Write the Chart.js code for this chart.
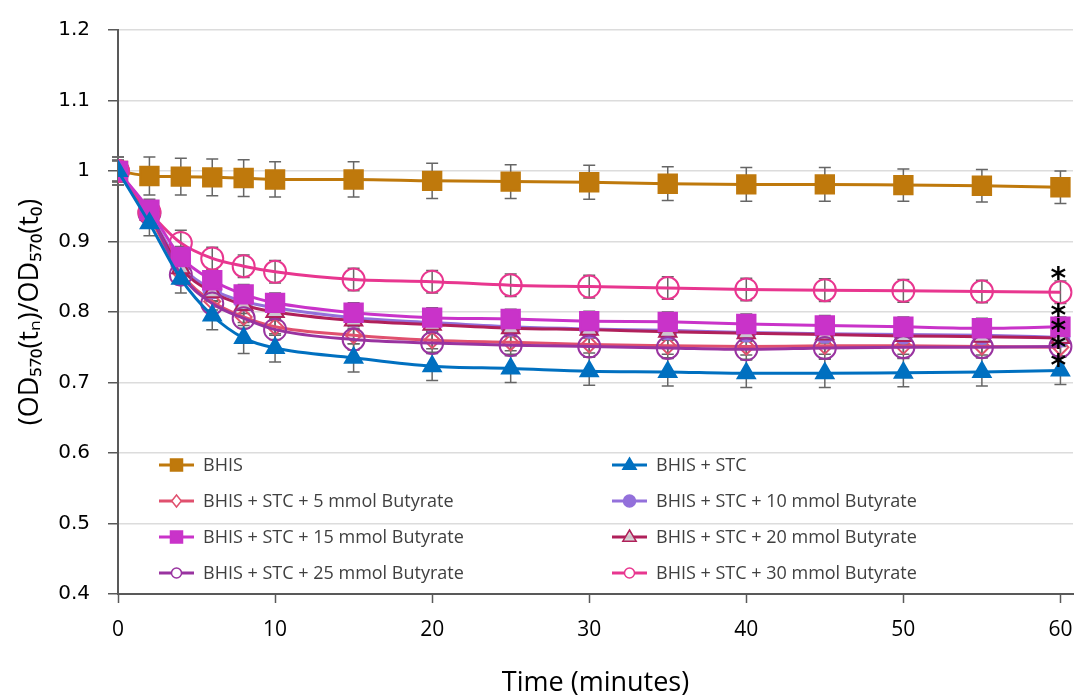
<!DOCTYPE html>
<html lang="en">
<head>
    <meta charset="UTF-8">
    <title>OD570 time course</title>
    <script src="https://cdn.jsdelivr.net/npm/chart.js"></script>
    <style>
        body { margin: 0; background: #fff; }
        #wrap { width: 1075px; height: 700px; }
    </style>
</head>
<body>
    <div id="wrap"><canvas id="odChart" width="1075" height="700"></canvas></div>

    <script>
        // time points (minutes)
        const times = [0, 2, 4, 6, 8, 10, 15, 20, 25, 30, 35, 40, 45, 50, 55, 60];

        const seriesNames = [
            'BHIS',
            'BHIS + STC',
            'BHIS + STC + 5 mmol Butyrate',
            'BHIS + STC + 10 mmol Butyrate',
            'BHIS + STC + 15 mmol Butyrate',
            'BHIS + STC + 20 mmol Butyrate',
            'BHIS + STC + 25 mmol Butyrate',
            'BHIS + STC + 30 mmol Butyrate'
        ];

        const bhis = [1.000, 0.993, 0.992, 0.991, 0.990, 0.988, 0.988, 0.986, 0.985, 0.984, 0.982, 0.981, 0.981, 0.980, 0.979, 0.977];
        const stc  = [1.000, 0.926, 0.847, 0.795, 0.763, 0.749, 0.735, 0.723, 0.720, 0.716, 0.715, 0.713, 0.713, 0.714, 0.715, 0.717];
        const but5  = [1.000, 0.935, 0.855, 0.815, 0.793, 0.779, 0.767, 0.760, 0.757, 0.754, 0.752, 0.751, 0.752, 0.752, 0.751, 0.750];
        const but10 = [1.000, 0.940, 0.866, 0.832, 0.815, 0.806, 0.792, 0.785, 0.779, 0.776, 0.774, 0.771, 0.769, 0.768, 0.767, 0.764];
        const but15 = [1.000, 0.945, 0.878, 0.845, 0.825, 0.813, 0.799, 0.792, 0.790, 0.787, 0.786, 0.783, 0.781, 0.779, 0.777, 0.779];
        const but20 = [1.000, 0.938, 0.862, 0.828, 0.810, 0.800, 0.788, 0.782, 0.777, 0.775, 0.772, 0.770, 0.768, 0.766, 0.765, 0.763];
        const but25 = [1.000, 0.940, 0.853, 0.812, 0.791, 0.775, 0.761, 0.756, 0.753, 0.751, 0.749, 0.747, 0.749, 0.750, 0.750, 0.751];
        const but30 = [1.000, 0.942, 0.898, 0.876, 0.865, 0.857, 0.846, 0.843, 0.838, 0.836, 0.834, 0.832, 0.831, 0.830, 0.829, 0.828];

        // standard deviations (error bars)
        const bhisErr = [0.020, 0.027, 0.026, 0.026, 0.026, 0.025, 0.025, 0.025, 0.024, 0.024, 0.024, 0.024, 0.024, 0.023, 0.023, 0.023];
        const stcErr  = [0.020, 0.018, 0.020, 0.020, 0.022, 0.020, 0.020, 0.020, 0.020, 0.020, 0.020, 0.020, 0.020, 0.020, 0.020, 0.020];
        const but5Err  = [0.015, 0.012, 0.012, 0.012, 0.012, 0.012, 0.012, 0.012, 0.012, 0.012, 0.012, 0.012, 0.012, 0.012, 0.012, 0.012];
        const but10Err = [0.015, 0.012, 0.012, 0.012, 0.012, 0.012, 0.012, 0.012, 0.012, 0.012, 0.012, 0.012, 0.012, 0.012, 0.012, 0.012];
        const but15Err = [0.015, 0.015, 0.015, 0.014, 0.014, 0.014, 0.014, 0.014, 0.014, 0.014, 0.014, 0.014, 0.014, 0.014, 0.014, 0.014];
        const but20Err = [0.015, 0.012, 0.012, 0.012, 0.012, 0.012, 0.012, 0.012, 0.012, 0.012, 0.012, 0.012, 0.012, 0.012, 0.012, 0.012];
        const but25Err = [0.015, 0.014, 0.014, 0.014, 0.014, 0.014, 0.015, 0.015, 0.015, 0.015, 0.015, 0.015, 0.015, 0.015, 0.015, 0.015];
        const but30Err = [0.015, 0.015, 0.018, 0.016, 0.016, 0.016, 0.016, 0.016, 0.016, 0.016, 0.016, 0.016, 0.016, 0.016, 0.016, 0.016];

        // significance marks at 60 min
        const asteriskTime = 60;
        const asteriskValues = [0.858, 0.805, 0.784, 0.760, 0.735];

        const yTicks = [0.4, 0.5, 0.6, 0.7, 0.8, 0.9, 1.0, 1.1, 1.2];
        const xTicks = [0, 10, 20, 30, 40, 50, 60];

        function pts(values) {
            return times.map((t, i) => ({ x: t, y: values[i] }));
        }

        function series(idx, values, errors, color, style, radius, fill, order) {
            return {
                label: seriesNames[idx],
                data: pts(values),
                errors: errors,
                borderColor: color,
                backgroundColor: fill,
                borderWidth: 3,
                pointStyle: style,
                pointRadius: radius,
                pointBorderColor: color,
                pointBackgroundColor: fill,
                pointBorderWidth: 2,
                cubicInterpolationMode: 'monotone',
                order: order
            };
        }

        const datasets = [
            series(0, bhis, bhisErr, '#BF790C', 'rect', 13, '#BF790C', 7),
            series(1, stc, stcErr, '#0070C0', 'triangle', 10, '#0070C0', 0),
            series(2, but5, but5Err, '#E0506E', 'rectRot', 8, 'rgba(255,255,255,0)', 6),
            series(3, but10, but10Err, '#9370DB', 'circle', 9, '#9370DB', 5),
            series(4, but15, but15Err, '#C933C9', 'rect', 13, '#C933C9', 1),
            series(5, but20, but20Err, '#B0205A', 'triangle', 10, 'rgba(210,210,210,0.9)', 4),
            series(6, but25, but25Err, '#9933A0', 'circle', 11, 'rgba(255,255,255,0)', 3),
            series(7, but30, but30Err, '#E8368F', 'circle', 11, 'rgba(255,255,255,0)', 2)
        ];

        const errorBars = {
            id: 'errorBars',
            beforeDatasetsDraw(chart) {
                const ctx = chart.ctx;
                const ys = chart.scales.y;
                ctx.save();
                ctx.strokeStyle = '#666666';
                ctx.lineWidth = 1.5;
                chart.data.datasets.forEach((ds, i) => {
                    const meta = chart.getDatasetMeta(i);
                    meta.data.forEach((el, j) => {
                        const v = ds.data[j].y;
                        const e = ds.errors[j];
                        const top = ys.getPixelForValue(v + e);
                        const bot = ys.getPixelForValue(v - e);
                        ctx.beginPath();
                        ctx.moveTo(el.x, top);
                        ctx.lineTo(el.x, bot);
                        ctx.moveTo(el.x - 6, top);
                        ctx.lineTo(el.x + 6, top);
                        ctx.moveTo(el.x - 6, bot);
                        ctx.lineTo(el.x + 6, bot);
                        ctx.stroke();
                    });
                });
                ctx.restore();
            }
        };

        function marker(ctx, style, x, y, r) {
            ctx.beginPath();
            if (style === 'rect') {
                ctx.rect(x - r, y - r, 2 * r, 2 * r);
            } else if (style === 'triangle') {
                ctx.moveTo(x, y - r);
                ctx.lineTo(x + r * 0.95, y + r * 0.6);
                ctx.lineTo(x - r * 0.95, y + r * 0.6);
                ctx.closePath();
            } else if (style === 'rectRot') {
                ctx.moveTo(x, y - r);
                ctx.lineTo(x + r * 0.8, y);
                ctx.lineTo(x, y + r);
                ctx.lineTo(x - r * 0.8, y);
                ctx.closePath();
            } else {
                ctx.arc(x, y, r, 0, Math.PI * 2);
            }
            ctx.fill();
            ctx.stroke();
        }

        // legend inside the plot area, two columns
        const innerLegend = {
            id: 'innerLegend',
            afterDraw(chart) {
                const ctx = chart.ctx;
                const cols = [159, 612];
                const rows = [465, 501, 537, 573];
                const sizes = [6, 7, 6, 6, 6, 7, 5, 5];
                ctx.save();
                ctx.font = '18px "Open Sans", sans-serif';
                ctx.textBaseline = 'middle';
                chart.data.datasets.forEach((ds, i) => {
                    const x = cols[i % 2];
                    const y = rows[Math.floor(i / 2)];
                    ctx.strokeStyle = ds.borderColor;
                    ctx.lineWidth = 3;
                    ctx.beginPath();
                    ctx.moveTo(x, y);
                    ctx.lineTo(x + 35, y);
                    ctx.stroke();
                    ctx.lineWidth = 1.5;
                    ctx.fillStyle = ds.pointBackgroundColor === 'rgba(255,255,255,0)' ? '#ffffff' : ds.pointBackgroundColor;
                    marker(ctx, ds.pointStyle, x + 17.5, y, sizes[i]);
                    ctx.fillStyle = '#404040';
                    ctx.fillText(ds.label, x + 44, y + 1);
                });
                ctx.restore();
            }
        };

        const asterisks = {
            id: 'asterisks',
            afterDraw(chart) {
                const ctx = chart.ctx;
                const xs = chart.scales.x;
                const ys = chart.scales.y;
                ctx.save();
                ctx.font = 'bold 30px "DejaVu Sans", sans-serif';
                ctx.fillStyle = '#000';
                ctx.textAlign = 'center';
                ctx.textBaseline = 'alphabetic';
                asteriskValues.forEach(v => {
                    ctx.fillText('*', xs.getPixelForValue(asteriskTime) - 2, ys.getPixelForValue(v) + 17);
                });
                ctx.restore();
            }
        };

        new Chart(document.getElementById('odChart').getContext('2d'), {
            type: 'line',
            data: { datasets: datasets },
            plugins: [errorBars, innerLegend, asterisks],
            options: {
                responsive: false,
                animation: false,
                devicePixelRatio: 1,
                layout: { autoPadding: false, padding: { top: 20, right: 2, left: 0, bottom: 0 } },
                plugins: {
                    legend: { display: false },
                    tooltip: { enabled: false }
                },
                scales: {
                    x: {
                        type: 'linear',
                        min: 0,
                        max: 60.8,
                        afterBuildTicks: s => { s.ticks = xTicks.map(v => ({ value: v })); },
                        afterFit: s => { s.height = 106; s.paddingRight = 0; s.paddingLeft = 0; },
                        grid: { drawOnChartArea: false, tickLength: 9, tickColor: '#595959', tickWidth: 1.5 },
                        border: { color: '#595959', width: 2 },
                        ticks: {
                            padding: 14,
                            color: '#000',
                            font: { family: '"Open Sans", sans-serif', size: 21 }
                        },
                        title: {
                            display: true,
                            text: 'Time (minutes)',
                            color: '#000',
                            font: { family: '"Open Sans", sans-serif', size: 27 },
                            padding: { top: 0, bottom: 0 }
                        }
                    },
                    y: {
                        min: 0.4,
                        max: 1.2,
                        afterBuildTicks: s => { s.ticks = yTicks.map(v => ({ value: v })); },
                        afterFit: s => { s.width = 118; },
                        grid: { color: '#dcdcdc', lineWidth: 1.5, tickLength: 10, tickColor: '#595959', tickWidth: 1.5 },
                        border: { color: '#595959', width: 2 },
                        ticks: {
                            padding: 18,
                            color: '#000',
                            font: { family: '"DejaVu Sans", sans-serif', size: 20 },
                            callback: v => (Math.round(v * 10) / 10).toString()
                        },
                        title: {
                            display: true,
                            text: '(OD\u2085\u2087\u2080(t\u2099)/OD\u2085\u2087\u2080(t\u2080)',
                            color: '#000',
                            font: { family: '"Open Sans", sans-serif', size: 27 },
                            padding: { top: 14, bottom: 0 }
                        }
                    }
                }
            }
        });
    </script>
</body>
</html>
